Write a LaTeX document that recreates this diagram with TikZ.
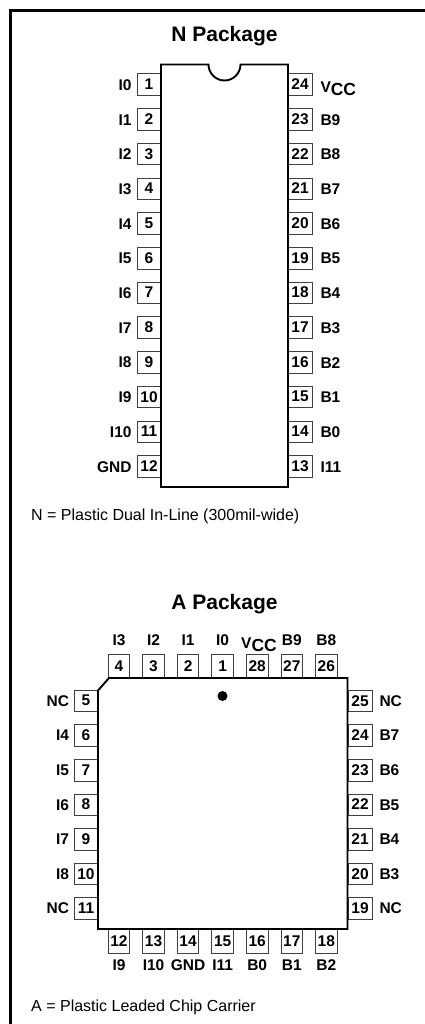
\documentclass[tikz,border=0pt]{standalone}
\usepackage{fontspec}
\setmainfont{Liberation Sans}
\tikzset{
  x=1pt,y=-1pt,
  frameline/.style={line width=2.2pt,black},
  bodyline/.style={line width=1.9pt,black,fill=white,line join=miter},
  pinbox/.style={draw=black!75,line width=0.9pt,fill=white,minimum width=24pt,minimum height=21.5pt,inner sep=0pt,outer sep=0pt,font=\fontsize{15.5}{16}\bfseries\selectfont},
  pinboxv/.style={pinbox,minimum width=21.5pt,minimum height=24pt},
  sig/.style={inner sep=0pt,outer sep=0pt,font=\fontsize{15.5}{16}\bfseries\selectfont},
  title/.style={inner sep=0pt,font=\fontsize{21}{22}\bfseries\selectfont},
  note/.style={inner sep=0pt,anchor=base west,font=\fontsize{16}{17}\selectfont},
}
\newcommand{\vcc}{V\raisebox{-3pt}{\fontsize{17.5}{18}\selectfont CC}}
\newcommand{\pn}[1]{\raisebox{0.7pt}{#1}}
\begin{document}
\begin{tikzpicture}
\useasboundingbox (0,0) rectangle (424,1024);
\path[fill=white] (0,0) rectangle (424,1024);
\draw[frameline] (10.5,1030) -- (10.5,10.5) -- (430,10.5);
\node[title] (ntitle) at (224.5,36) {N Package};
\node[title] (atitle) at (224.5,604) {A Package};
% N package pins
\foreach \n/\s [count=\i from 0] in {1/I0,2/I1,3/I2,4/I3,5/I4,6/I5,7/I6,8/I7,9/I8,10/I9,11/I10,12/GND}{
  \pgfmathsetmacro{\yy}{84.7+34.7*\i}
  \node[pinbox] (nl\n) at (149,\yy) {\pn{\n}};
  \node[sig,anchor=east] (nls\n) at (131.5,\yy+0.3) {\s};
}
\foreach \n/\s [count=\i from 0] in {24/,23/B9,22/B8,21/B7,20/B6,19/B5,18/B4,17/B3,16/B2,15/B1,14/B0,13/I11}{
  \pgfmathsetmacro{\yy}{84.7+34.7*\i}
  \node[pinbox] (nr\n) at (300,\yy) {\pn{\n}};
  \ifnum\n=24\else\node[sig,anchor=west] (nrs\n) at (320.5,\yy+0.5) {\s};\fi
}
\node[sig,anchor=west] (nvcc) at (320.5,89) {\vcc};
\draw[bodyline] (161,64.5) -- (208.5,64.5) arc[start angle=180,end angle=0,radius=16] -- (288,64.5) -- (288,487) -- (161,487) -- cycle;
\node[note] (nnote) at (31,520) {N = Plastic Dual In-Line (300mil-wide)};
% A package pins
\foreach \n/\s [count=\i from 0] in {4/I3,3/I2,2/I1,1/I0,28/,27/B9,26/B8}{
  \pgfmathsetmacro{\xx}{119+34.55*\i}
  \node[pinboxv] (at\n) at (\xx,666.2) {\pn{\n}};
  \ifnum\n=28\else\node[sig] (ats\n) at (\xx,640.3) {\s};\fi
}
\node[sig] (avcc) at (259,644.5) {\vcc};
\foreach \n/\s [count=\i from 0] in {12/I9,13/I10,14/GND,15/I11,16/B0,17/B1,18/B2}{
  \pgfmathsetmacro{\xx}{119+34.55*\i}
  \node[pinboxv] (ab\n) at (\xx,941.2) {\pn{\n}};
  \node[sig] (abs\n) at (\xx,965.5) {\s};
}
\foreach \n/\s [count=\i from 0] in {5/NC,6/I4,7/I5,8/I6,9/I7,10/I8,11/NC}{
  \pgfmathsetmacro{\yy}{701+34.6*\i}
  \node[pinbox] (al\n) at (86,\yy) {\pn{\n}};
  \node[sig,anchor=east] (als\n) at (69,\yy) {\s};
}
\foreach \n/\s [count=\i from 0] in {25/NC,24/B7,23/B6,22/B5,21/B4,20/B3,19/NC}{
  \pgfmathsetmacro{\yy}{701+34.6*\i}
  \node[pinbox] (ar\n) at (360,\yy) {\pn{\n}};
  \node[sig,anchor=west] (ars\n) at (379.5,\yy) {\s};
}
\draw[bodyline] (109,678) -- (347.5,678) -- (347.5,929) -- (98,929) -- (98,690.5) -- cycle;
\fill (222.5,696) circle[radius=5];
\node[note] (anote) at (31,1011.7) {A = Plastic Leaded Chip Carrier};
\end{tikzpicture}
\end{document}
